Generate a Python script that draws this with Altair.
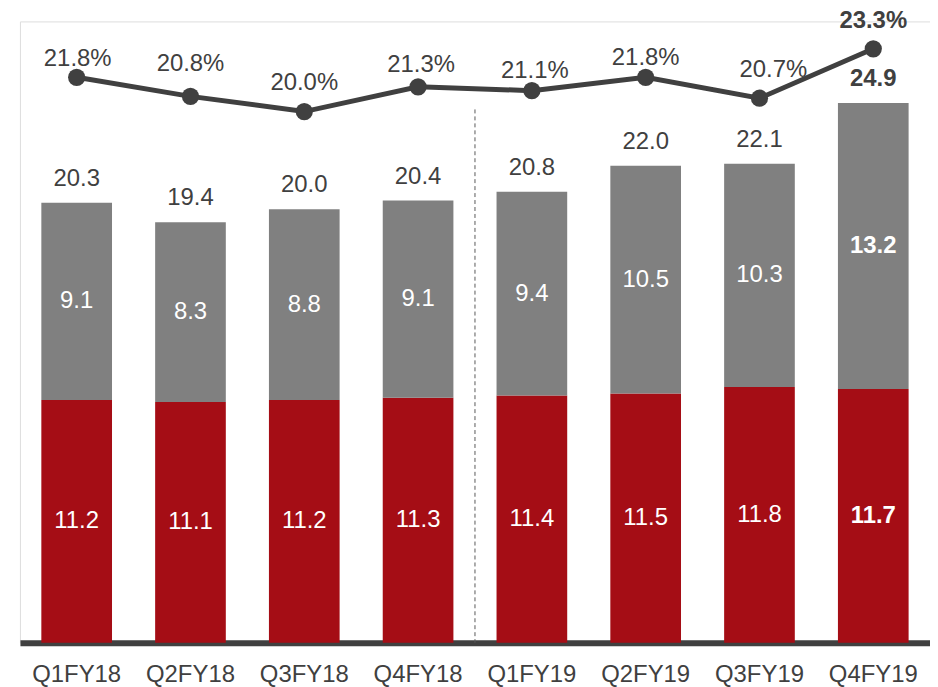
import altair as alt
import pandas as pd

quarters = ["Q1FY18", "Q2FY18", "Q3FY18", "Q4FY18", "Q1FY19", "Q2FY19", "Q3FY19", "Q4FY19"]
red_vals = [11.2, 11.1, 11.2, 11.3, 11.4, 11.5, 11.8, 11.7]
gray_vals = [9.1, 8.3, 8.8, 9.1, 9.4, 10.5, 10.3, 13.2]
totals = [20.3, 19.4, 20.0, 20.4, 20.8, 22.0, 22.1, 24.9]
pcts = [21.8, 20.8, 20.0, 21.3, 21.1, 21.8, 20.7, 23.3]

df = pd.DataFrame({"quarter": quarters, "red": red_vals, "gray": gray_vals,
                   "total": totals, "pct": pcts})

# ---- styles ----
HIGHLIGHT = "Q4FY19"
DIVIDER_AFTER = "Q4FY18"
DIVIDER_TOP = 24.6
RED = "#A50D15"
GRAY = "#808080"
DARK = "#404040"
FONT = "Liberation Sans"
FS = 24
W, H = 914, 624
PAD_INNER = 0.379
PAD_OUTER = 0.188
STEP = W / (len(quarters) - PAD_INNER + 2 * PAD_OUTER)
GAP_HALF = STEP * PAD_INNER / 2
# per-quarter offsets of the percentage labels (dx, dy)
PCT_OFF = {"Q1FY18": (1, -11.5), "Q2FY18": (0, -25.5), "Q3FY18": (0, -21.5),
           "Q4FY18": (3, -14.5), "Q1FY19": (3, -12.5), "Q2FY19": (0, -12.5),
           "Q3FY19": (14, -21.5), "Q4FY19": (0, -20.5)}

xscale = alt.Scale(paddingInner=PAD_INNER, paddingOuter=PAD_OUTER)
xaxis = alt.Axis(labelFont=FONT, labelFontSize=FS, labelColor=DARK, labelAngle=0,
                 labelBaseline="alphabetic", labelPadding=39, ticks=False, tickSize=0,
                 domainColor=DARK, domainWidth=6, title=None, grid=False)


def X(**kw):
    return alt.X("quarter:N", sort=quarters, scale=xscale, axis=xaxis, title=None, **kw)


ybar = alt.Scale(domain=[0, 28.66], nice=False, zero=True)
ypct = alt.Scale(domain=[-7.93, 24.74], nice=False, zero=False)

base = alt.Chart(df)

red_bar = base.mark_bar(color=RED).encode(
    x=X(), y=alt.Y("red:Q", scale=ybar, axis=None))
gray_bar = base.mark_bar(color=GRAY).encode(
    x=X(), y=alt.Y("red:Q", scale=ybar, axis=None), y2="total:Q")

is_hl = alt.datum.quarter == HIGHLIGHT
not_hl = alt.datum.quarter != HIGHLIGHT


def seg_text(field, weight, cond):
    return base.transform_calculate(
        mid_red="datum.red / 2", mid_gray="datum.red + datum.gray / 2"
    ).transform_filter(cond).mark_text(
        font=FONT, fontSize=FS, color="white", fontWeight=weight, baseline="middle"
    ).encode(
        x=X(), y=alt.Y(f"mid_{field}:Q", scale=ybar, axis=None),
        text=alt.Text(f"{field}:Q", format=".1f"))


def total_text(weight, cond):
    return base.transform_filter(cond).mark_text(
        font=FONT, fontSize=FS, color=DARK, fontWeight=weight,
        baseline="alphabetic", dy=-17
    ).encode(x=X(), y=alt.Y("total:Q", scale=ybar, axis=None),
             text=alt.Text("total:Q", format=".1f"))


divider = alt.Chart(pd.DataFrame({"quarter": [DIVIDER_AFTER]})).mark_rule(
    color="#595959", strokeWidth=1, strokeDash=[4, 3], xOffset=GAP_HALF
).encode(
    x=X(bandPosition=1),
    y=alt.YDatum(DIVIDER_TOP, scale=ybar, axis=None), y2=alt.datum(0))

line = base.mark_line(color=DARK, strokeWidth=5).encode(
    x=X(), y=alt.Y("pct:Q", scale=ypct, axis=None))
dots = base.mark_point(filled=True, color=DARK, size=300, opacity=1).encode(
    x=X(), y=alt.Y("pct:Q", scale=ypct, axis=None))

pct_labels = []
for q in quarters:
    dx, dy = PCT_OFF[q]
    pct_labels.append(
        base.transform_filter(alt.datum.quarter == q).transform_calculate(
            lbl="format(datum.pct, '.1f') + '%'"
        ).mark_text(font=FONT, fontSize=FS, color=DARK, baseline="alphabetic",
                    dx=dx, dy=dy, fontWeight="bold" if q == HIGHLIGHT else "normal"
        ).encode(x=X(), y=alt.Y("pct:Q", scale=ypct, axis=None), text="lbl:N"))

chart = alt.layer(
    red_bar, gray_bar, divider,
    seg_text("red", "normal", not_hl), seg_text("red", "bold", is_hl),
    seg_text("gray", "normal", not_hl), seg_text("gray", "bold", is_hl),
    total_text("normal", not_hl), total_text("bold", is_hl),
    line, dots, *pct_labels
).resolve_scale(y="independent").properties(
    width=W, height=H,
    autosize=alt.AutoSizeParams(type="none"),
    padding={"left": 12, "top": 12, "right": 0, "bottom": 43},
).configure_view(stroke=None).configure(background="white")

chart.save("out.html", embed_options={"renderer": "svg", "actions": False})
